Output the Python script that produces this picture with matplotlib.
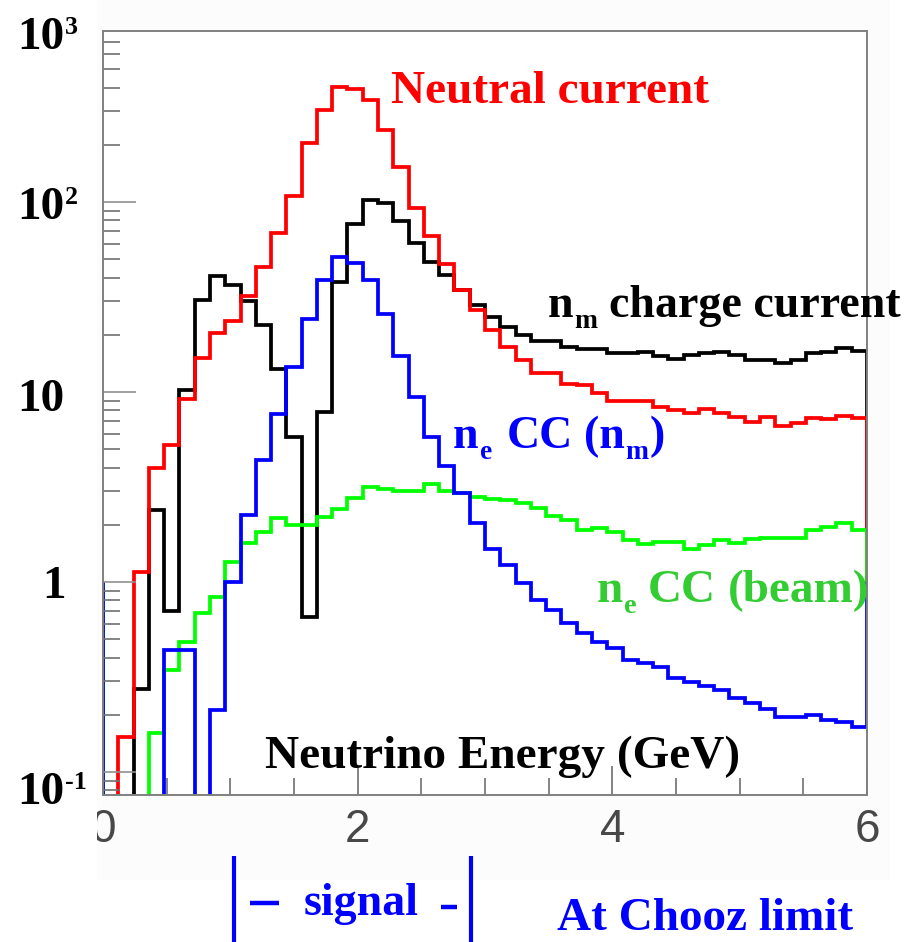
import matplotlib
matplotlib.use("Agg")
import matplotlib.pyplot as plt
from matplotlib.lines import Line2D
from matplotlib.patches import Rectangle
from matplotlib.transforms import Bbox, TransformedBbox
from matplotlib.ticker import LogLocator, MultipleLocator, NullFormatter
import numpy as np

# 50 bins of 0.12 GeV between 0 and 6 GeV
edges = np.linspace(0, 6, 51)

neutral_current = [0, 0.153, 1.13, 3.97, 5.26, 9.15, 15.2, 20.5, 23.7, 32.1,
                   45.3, 68.4, 108, 204, 305, 404, 392, 344, 239, 153,
                   92.6, 66.2, 47.2, 34.4, 27.0, 21.2, 17.3, 14.7, 12.6, 12.6,
                   11.0, 10.9, 9.84, 9.0, 9.0, 9.0, 8.3, 8.03, 7.72, 8.11,
                   7.72, 7.36, 6.98, 7.36, 6.62, 6.84, 7.27, 7.18, 7.45, 7.27]

numu_cc = [0, 0, 0.275, 2.39, 0.70, 10.3, 30.5, 41.0, 36.6, 30.1,
           22.5, 13.3, 5.77, 0.657, 7.88, 37.8, 76.5, 102, 99, 79.8,
           60.6, 48.5, 41.3, 34.4, 28.7, 24.9, 22.1, 19.95, 18.6, 18.6,
           17.3, 16.8, 16.8, 16.0, 16.0, 16.3, 15.5, 15.0, 15.7, 16.1,
           16.3, 15.7, 14.7, 14.7, 14.3, 14.8, 16.0, 16.3, 17.0, 16.5]

nue_cc_osc = [0, 0, 0, 0, 0.44, 0.44, 0, 0.212, 1.0, 2.25,
              4.39, 7.66, 13.6, 24.2, 38.8, 51.2, 47.5, 38.8, 25.9, 15.4,
              9.45, 5.8, 4.08, 2.93, 2.04, 1.50, 1.23, 0.985, 0.804, 0.712,
              0.606, 0.537, 0.485, 0.448, 0.388, 0.376, 0.358, 0.311, 0.299, 0.284,
              0.27, 0.244, 0.23, 0.214, 0.195, 0.194, 0.2, 0.188, 0.184, 0.172]

nue_cc_beam = [0, 0, 0, 0.16, 0.344, 0.485, 0.684, 0.83, 1.27, 1.6,
               1.84, 2.16, 2.0, 2.0, 2.21, 2.42, 2.76, 3.15, 3.09, 3.01,
               3.0, 3.28, 3.03, 2.95, 2.81, 2.72, 2.70, 2.61, 2.44, 2.23,
               2.12, 1.88, 1.92, 1.84, 1.66, 1.585, 1.63, 1.63, 1.50, 1.57,
               1.66, 1.61, 1.68, 1.70, 1.70, 1.70, 1.89, 1.94, 2.05, 1.89]

x_ticks = [0, 2, 4, 6]
x_ticklabels = ['0', '2', '4', '6']

W, H = 912, 942
def fx(px):
    return px / W
def fy(py):
    return 1 - py / H

fig = plt.figure(figsize=(W / 100, H / 100), dpi=100)
fig.patch.set_facecolor('white')
fig.patches.append(Rectangle((fx(97), fy(880)), fx(890) - fx(97), 1 - fy(880),
                             transform=fig.transFigure, facecolor='#fcfcfc',
                             edgecolor='none', zorder=-10))

ax = fig.add_axes([fx(103), fy(795), fx(867) - fx(103), fy(31) - fy(795)])
ax.set_yscale('log')
ax.set_xlim(0, 6)
ax.set_ylim(0.0757, 795)
ax.set_facecolor('white')

for vals, col in [(numu_cc, 'black'), (neutral_current, '#ff0000'),
                  (nue_cc_beam, '#00ff00'), (nue_cc_osc, '#0000ff')]:
    v = np.clip(np.asarray(vals, dtype=float), 1e-3, None)
    ax.stairs(v, edges, baseline=1.0, color=col, linewidth=2.7,
              joinstyle='miter')

for s in ax.spines.values():
    s.set_color('#808080')
    s.set_linewidth(1.4)

ax.yaxis.set_major_locator(LogLocator(base=10, numticks=10))
ax.yaxis.set_minor_locator(LogLocator(base=10, subs=np.arange(2, 10), numticks=20))
ax.yaxis.set_major_formatter(NullFormatter())
ax.yaxis.set_minor_formatter(NullFormatter())
ax.tick_params(axis='y', which='major', direction='in', length=24, width=1.2,
               color='#909090', left=True, right=False)
ax.tick_params(axis='y', which='minor', direction='in', length=12, width=1.2,
               color='#707070', left=True, right=False)

# first label is drawn separately below, cut at the pad edge
ax.set_xticks(x_ticks, [''] + x_ticklabels[1:])
ax.xaxis.set_minor_locator(MultipleLocator(0.5))
ax.tick_params(axis='x', which='major', direction='in', length=21, width=1.2,
               color='#707070', top=False, pad=9, labelsize=33,
               labelcolor='#484848')
ax.tick_params(axis='x', which='minor', direction='in', length=12, width=1.2,
               color='#707070', top=False)
for lab in ax.get_xticklabels():
    lab.set_family('Liberation Sans')

renderer = fig.canvas.get_renderer()
fig.canvas.draw()
lab2 = ax.get_xticklabels()[1]
zero = ax.text(x_ticks[0], lab2.get_position()[1], x_ticklabels[0],
               transform=lab2.get_transform(), ha='center', va='top',
               fontsize=33, color='#484848', family='Liberation Sans')
zero.set_clip_on(True)
zero.set_clip_box(TransformedBbox(Bbox([[fx(97), 0], [1, 1]]), fig.transFigure))

serif = dict(family='Liberation Serif', weight='bold')

def rich_text(x, y, parts, size, color):
    # parts: (text, kind) with kind 'n', 'sub', 'sup' or a gap in em
    em = size * 100 / 72
    for s, kind in parts:
        if kind == 'gap':
            x += s * em
            continue
        fs, dy = size, 0
        if kind == 'sub':
            fs, dy = size * 0.6, 0.24 * em
        elif kind == 'sup':
            fs, dy = size * 0.55, -0.32 * em
        t = fig.text(fx(x), fy(y + dy), s, ha='left', va='baseline',
                     fontsize=fs, color=color, **serif)
        x += t.get_window_extent(renderer).width + 0.02 * em

# y axis labels
rich_text(17, 49, [('10', 'n'), ('3', 'sup')], 34, 'black')
rich_text(17, 219, [('10', 'n'), ('2', 'sup')], 34, 'black')
rich_text(17, 411, [('10', 'n')], 34, 'black')
rich_text(42, 598, [('1', 'n')], 34, 'black')
rich_text(17, 804, [('10', 'n'), ('-1', 'sup')], 34, 'black')

fig.text(fx(391), fy(103), 'Neutral current', ha='left', va='baseline',
         fontsize=34, color='#ff0000', **serif)
rich_text(548, 317, [('n', 'n'), ('m', 'sub'), (0.22, 'gap'),
                     ('charge current', 'n')], 33, 'black')
rich_text(453, 448, [('n', 'n'), ('e', 'sub'), (0.3, 'gap'), ('CC', 'n'),
                     (0.22, 'gap'), ('(n', 'n'), ('m', 'sub'), (')', 'n')],
          33, '#0000ff')
rich_text(597, 602, [('n', 'n'), ('e', 'sub'), (0.22, 'gap'), ('CC', 'n'),
                     (0.22, 'gap'), ('(beam)', 'n')], 34, '#33cc33')
fig.text(fx(265), fy(768), 'Neutrino Energy (GeV)', ha='left',
         va='baseline', fontsize=34, color='black', **serif)

# signal window marker under the axis
blue = '#0000ff'
for x0, y0, x1, y1, lw in [(234, 856, 234, 942, 3.0), (471, 856, 471, 942, 3.0),
                           (250, 903, 279, 903, 3.2), (441, 907, 457, 907, 3.2)]:
    fig.add_artist(Line2D([fx(x0), fx(x1)], [fy(y0), fy(y1)],
                          transform=fig.transFigure, color=blue, linewidth=lw,
                          solid_capstyle='butt'))
fig.text(fx(361), fy(915), 'signal', ha='center', va='baseline', fontsize=33,
         color=blue, **serif)
fig.text(fx(557), fy(930), 'At Chooz limit', ha='left', va='baseline',
         fontsize=34, color=blue, **serif)

fig.savefig('out.png', dpi=100)
